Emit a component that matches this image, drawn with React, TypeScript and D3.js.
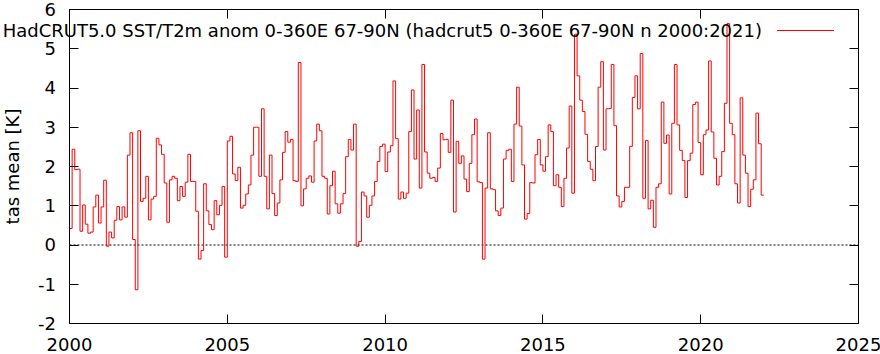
import React, { useEffect, useRef } from "react";
import * as d3 from "d3";

const START_YEAR = 2000;

// monthly tas anomalies [K], Jan 2000 .. Dec 2021, one row per year
const tasMean: number[] = [
  0.42, 2.44, 1.92, 1.93, 0.35, 1.02, 0.53, 0.30, 0.33, 0.97, 1.27, 0.56, // 2000
  0.97, 1.65, -0.03, 0.33, 0.18, 0.63, 0.98, 0.64, 0.97, 0.71, 2.29, 2.86, // 2001
  0.14, -1.14, 2.91, 1.11, 1.19, 1.75, 0.64, 1.17, 1.24, 2.72, 2.55, 2.31, // 2002
  1.58, 0.58, 1.66, 1.75, 1.70, 1.13, 1.49, 1.24, 1.60, 2.31, 1.62, 1.62, // 2003
  0.86, -0.36, -0.14, 1.56, 0.87, 0.52, 0.39, 1.13, 0.77, 1.01, 1.49, -0.31, // 2004
  2.65, 2.77, 1.81, 1.64, 1.98, 0.94, 1.01, 1.30, 1.53, 2.29, 3.00, 3.00, // 2005
  1.75, 3.47, 1.75, 0.92, 2.29, 1.31, 0.75, 1.07, 1.66, 2.36, 2.89, 2.62, // 2006
  2.69, 1.64, 1.62, 4.65, 1.00, 1.43, 1.70, 1.76, 1.60, 2.65, 3.08, 2.91, // 2007
  1.75, 1.70, 0.79, 1.51, 1.88, 1.05, 0.81, 1.05, 1.31, 2.25, 2.69, 2.42, // 2008
  3.08, -0.03, 0.09, 1.35, 1.25, 0.71, 1.01, 1.25, 1.62, 2.13, 2.51, 2.57, // 2009
  1.87, 2.37, 2.53, 4.18, 2.71, 1.17, 1.35, 1.19, 1.32, 2.89, 3.95, 2.19, // 2010
  3.44, 1.45, 4.60, 2.37, 1.83, 1.70, 1.72, 1.62, 1.96, 2.84, 2.68, 2.69, // 2011
  2.36, 3.69, 0.84, 2.64, 2.08, 2.27, 1.68, 1.36, 2.08, 2.81, 3.21, 1.61, // 2012
  1.59, -0.36, 1.45, 2.86, 1.43, 1.41, 0.87, 0.75, 0.94, 2.19, 2.41, 2.44, // 2013
  1.62, 3.08, 4.02, 3.03, 2.04, 0.66, 0.80, 1.59, 1.58, 2.30, 2.69, 2.04, // 2014
  1.88, 2.25, 3.06, 2.89, 1.51, 1.79, 1.47, 0.98, 1.70, 2.47, 3.54, 1.32, // 2015
  5.37, 4.31, 3.69, 3.40, 2.82, 2.13, 1.93, 1.64, 2.51, 4.02, 4.67, 2.42, // 2016
  3.47, 3.48, 4.60, 3.04, 1.25, 0.97, 1.11, 1.47, 1.47, 2.51, 3.76, 4.31, // 2017
  3.47, 4.88, 1.19, 2.66, 0.92, 1.14, 0.45, 1.47, 1.56, 3.64, 2.59, 2.80, // 2018
  1.30, 3.10, 4.60, 3.06, 2.41, 2.15, 1.21, 2.15, 2.34, 3.58, 3.64, 2.61, // 2019
  1.79, 2.81, 2.93, 4.69, 2.88, 2.21, 1.53, 1.75, 2.38, 3.61, 5.64, 3.10, // 2020
  2.81, 1.56, 1.07, 3.75, 2.29, 1.83, 0.98, 1.42, 1.66, 3.36, 2.58, 1.27, // 2021
];

const xTicks = [2000, 2005, 2010, 2015, 2020, 2025];
const yTicks = [-2, -1, 0, 1, 2, 3, 4, 5, 6];
const TITLE = "HadCRUT5.0 SST/T2m anom 0-360E 67-90N (hadcrut5 0-360E 67-90N n 2000:2021)";
const Y_LABEL = "tas mean [K]";

const FONT = "'DejaVu Sans', sans-serif";
const TICK = 9;

const App: React.FC = () => {
  const ref = useRef<SVGSVGElement>(null);

  useEffect(() => {
    if (!ref.current) return;
    const svg = d3.select(ref.current);
    svg.selectAll("*").remove();

    const left = 69.5, right = 858.5, top = 9.5, bottom = 323.5;
    const x = d3.scaleLinear().domain([2000, 2025]).range([left, right]);
    const y = d3.scaleLinear().domain([-2, 6]).range([bottom, top]);

    svg.append("rect").attr("width", 880).attr("height", 354).attr("fill", "white");

    // zero line
    svg.append("line")
      .attr("x1", left).attr("x2", right)
      .attr("y1", y(0)).attr("y2", y(0))
      .attr("stroke", "black")
      .attr("stroke-width", 1)
      .attr("stroke-dasharray", "2,2");

    // data as steps (one extra point closes the last month)
    const pts: [number, number][] = tasMean.map((v, i) => [START_YEAR + i / 12, v]);
    pts.push([START_YEAR + tasMean.length / 12, tasMean[tasMean.length - 1]]);
    const line = d3.line<[number, number]>()
      .x(d => x(d[0]))
      .y(d => y(d[1]))
      .curve(d3.curveStepAfter);
    svg.append("path")
      .attr("d", line(pts) as string)
      .attr("fill", "none")
      .attr("stroke", "#ff0000")
      .attr("stroke-width", 1);

    // frame
    svg.append("rect")
      .attr("x", left).attr("y", top)
      .attr("width", right - left).attr("height", bottom - top)
      .attr("fill", "none").attr("stroke", "black").attr("stroke-width", 1);

    // ticks on all four sides
    const tg = svg.append("g").attr("stroke", "black").attr("stroke-width", 1);
    yTicks.forEach(v => {
      const yy = Math.floor(y(v)) + 0.5;
      tg.append("line").attr("x1", left).attr("x2", left + TICK).attr("y1", yy).attr("y2", yy);
      tg.append("line").attr("x1", right - TICK).attr("x2", right).attr("y1", yy).attr("y2", yy);
    });
    xTicks.forEach(v => {
      const xx = Math.floor(x(v)) + 0.5;
      tg.append("line").attr("x1", xx).attr("x2", xx).attr("y1", bottom).attr("y2", bottom - TICK);
      tg.append("line").attr("x1", xx).attr("x2", xx).attr("y1", top).attr("y2", top + TICK);
    });

    // tick labels
    svg.append("g")
      .selectAll("text")
      .data(yTicks)
      .enter()
      .append("text")
      .attr("x", 56)
      .attr("y", d => y(d))
      .attr("dy", "0.36em")
      .attr("text-anchor", "end")
      .style("font-family", FONT)
      .style("font-size", "18px")
      .text(d => String(d));

    svg.append("g")
      .selectAll("text")
      .data(xTicks)
      .enter()
      .append("text")
      .attr("x", d => x(d))
      .attr("y", 351)
      .attr("text-anchor", "middle")
      .style("font-family", FONT)
      .style("font-size", "18px")
      .text(d => String(d));

    // y axis label
    svg.append("text")
      .attr("transform", `translate(19,${(top + bottom) / 2}) rotate(-90)`)
      .attr("text-anchor", "middle")
      .style("font-family", FONT)
      .style("font-size", "18px")
      .text(Y_LABEL);

    // key
    svg.append("text")
      .attr("x", 762)
      .attr("y", 37)
      .attr("text-anchor", "end")
      .style("font-family", FONT)
      .style("font-size", "18px")
      .text(TITLE);
    svg.append("line")
      .attr("x1", 777).attr("x2", 834)
      .attr("y1", 30.5).attr("y2", 30.5)
      .attr("stroke", "#ff0000").attr("stroke-width", 1);
  }, []);

  return (
    <svg
      ref={ref}
      width={880}
      height={354}
      style={{ position: "absolute", left: 0, top: 0 }}
    />
  );
};

export default App;
